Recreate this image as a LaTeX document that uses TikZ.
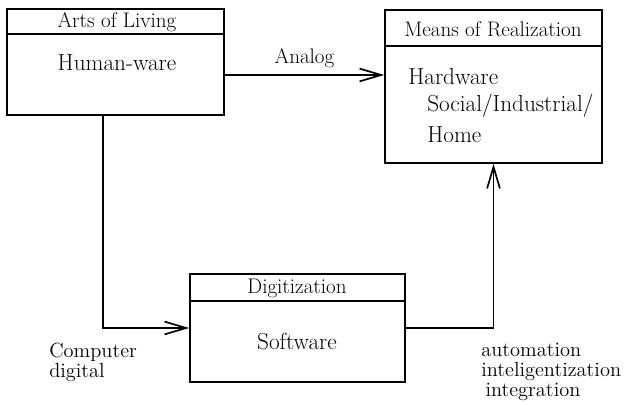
\documentclass[tikz,border=0pt]{standalone}
\usepackage{amsmath,amsfonts,amssymb}
\usepackage{tikz}
\usetikzlibrary{arrows.meta}

\begin{document}
\begin{tikzpicture}[x=0.025cm, y=-0.025cm,
		box/.style={draw=black, line width=1.2pt, inner sep=0pt},
		head/.style={font=\fontsize{15}{17}\selectfont},
		body/.style={font=\fontsize{16.5}{18}\selectfont},
		side/.style={font=\fontsize{14.5}{14.2}\selectfont, align=left, anchor=west, inner sep=0pt},
		arr/.style={line width=1.2pt, -{Straight Barb[length=5.4mm, width=3.2mm, line width=1.2pt]}}]
			\useasboundingbox (0,0) rectangle (625,405);
			\node (1) at (115.5,62) [box, minimum width=5.425cm, minimum height=2.65cm] {};
			\node (2) at (493.5,86.5) [box, minimum width=5.425cm, minimum height=3.825cm] {};
			\node (3) at (297.5,328) [box, minimum width=5.375cm, minimum height=2.7cm] {};
			
			\draw[line width=1.2pt] (1.north west) ++(0,26) -- ++(217,0);
			\draw[line width=1.2pt] (2.north west) ++(0,37) -- ++(217,0);
			\draw[line width=1.2pt] (3.north west) ++(0,28) -- ++(215,0);
			
			\node (1t) at (117,22) [head] {Arts of Living};
			\node (1b) at (117,63) [body] {Human-ware};
			\node (2t) at (493,29) [head] {Means of Realization};
			\node (2a) at (408,77) [body, anchor=west, inner sep=0pt] {Hardware};
			\node (2b) at (427,106) [body, anchor=west, inner sep=0pt] {Social/Industrial/};
			\node (2c) at (427,135) [body, anchor=west, inner sep=0pt] {Home};
			\node (3t) at (297,288) [head] {Digitization};
			\node (3b) at (297,342) [body] {Software};
			
			\path ([yshift=-0.325cm]1.east) coordinate (an);
			\draw[arr] (an) -- (an -| 2.west) node[midway, above=1.5pt, head] {Analog};
			\draw[arr] ([xshift=-0.31cm]1.south) |- (3.west);
			\draw[arr] (3.east) -| (2.south);
			
			\node (4) at (49,362) [side] {Computer\\digital};
			\node (5) at (481,372) [side] {automation\\inteligentization\\\hspace{3pt}integration};
		\end{tikzpicture}
\end{document}
